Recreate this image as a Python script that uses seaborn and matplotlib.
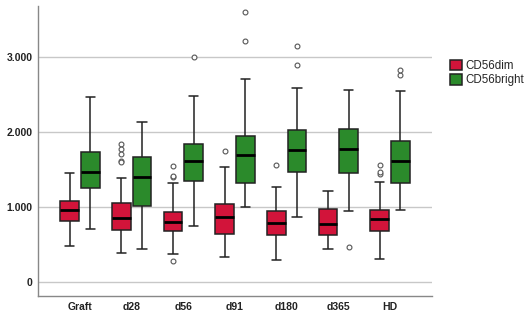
import numpy as np
import pandas as pd
import matplotlib
matplotlib.use('Agg')
import matplotlib.pyplot as plt
import seaborn as sns

sns.set_style('white')
plt.rcParams['font.family'] = ['Liberation Sans', 'DejaVu Sans']

# Box statistics (whisker low, Q1, median, Q3, whisker high, outliers)
timepoints = ['Graft', 'd28', 'd56', 'd91', 'd180', 'd365', 'HD']
subsets = ['CD56dim', 'CD56bright']

dim_low = [486, 392, 379, 330, 290, 446, 312]
dim_q1 = [820, 700, 682, 642, 629, 629, 682]
dim_med = [958, 860, 807, 869, 794, 776, 843]
dim_q3 = [1083, 1052, 941, 1043, 950, 972, 967]
dim_high = [1460, 1391, 1320, 1538, 1275, 1213, 1337]
dim_out = [[], [1840, 1780, 1710, 1620, 1600], [281, 1400, 1413, 1551], [1752], [1565], [], [1444, 1471, 1565]]

bright_low = [709, 437, 753, 999, 865, 954, 967]
bright_q1 = [1257, 1021, 1346, 1329, 1471, 1453, 1329]
bright_med = [1467, 1404, 1623, 1694, 1761, 1774, 1618]
bright_q3 = [1743, 1672, 1841, 1957, 2033, 2046, 1881]
bright_high = [2470, 2135, 2488, 2706, 2586, 2568, 2550]
bright_out = [[], [], [3005], [3214, 3611], [2900, 3152], [464], [2760, 2835]]

colors = {'CD56dim': '#D2143A', 'CD56bright': '#2B8A2B'}


def box_values(lo, q1, med, q3, hi, out):
    # repeat the quartiles so the computed box matches the read statistics
    return [lo] + [q1] * 10 + [med] * 10 + [q3] * 10 + [hi] + list(out)


rows = []
for i, tp in enumerate(timepoints):
    for v in box_values(dim_low[i], dim_q1[i], dim_med[i], dim_q3[i], dim_high[i], dim_out[i]):
        rows.append((tp, 'CD56dim', v))
    for v in box_values(bright_low[i], bright_q1[i], bright_med[i], bright_q3[i], bright_high[i], bright_out[i]):
        rows.append((tp, 'CD56bright', v))
df = pd.DataFrame(rows, columns=['timepoint', 'subset', 'value'])

fig = plt.figure(figsize=(5.31, 3.19), dpi=100)
ax = fig.add_axes([0.0716, 0.072, 0.742, 0.909])

ax.yaxis.grid(True, color='#c8c8c8', linewidth=1)
ax.set_axisbelow(True)

sns.boxplot(data=df, x='timepoint', y='value', hue='subset', order=timepoints,
            hue_order=subsets, palette=colors, saturation=1, width=0.8, gap=0.1,
            linecolor='#222222', linewidth=1.1, whis=1.5, fliersize=3.5,
            flierprops=dict(marker='o', markerfacecolor='white', markeredgecolor='#555555',
                            markeredgewidth=0.8),
            medianprops=dict(color='black', linewidth=2),
            capwidths=0.18, ax=ax)

ax.set_xlim(-0.81, 6.81)
ax.set_ylim(-187, 3686)
ax.set_yticks([0, 1000, 2000, 3000])
ax.set_yticklabels(['0', '1.000', '2.000', '3.000'])
ax.set_xlabel('')
ax.set_ylabel('')
ax.tick_params(axis='both', length=0, labelsize=7.5, colors='#222222', pad=4)
for lab in ax.get_xticklabels() + ax.get_yticklabels():
    lab.set_fontweight('bold')

for side in ['top', 'right']:
    ax.spines[side].set_visible(False)
for side in ['left', 'bottom']:
    ax.spines[side].set_color('#888888')
    ax.spines[side].set_linewidth(1)

ax.legend(loc='upper left', bbox_to_anchor=(1.035, 0.83), frameon=False,
          fontsize=8.3, handlelength=1.0, handleheight=1.0, handletextpad=0.3,
          labelspacing=0.2, borderaxespad=0)

fig.savefig('out.png', dpi=100)
